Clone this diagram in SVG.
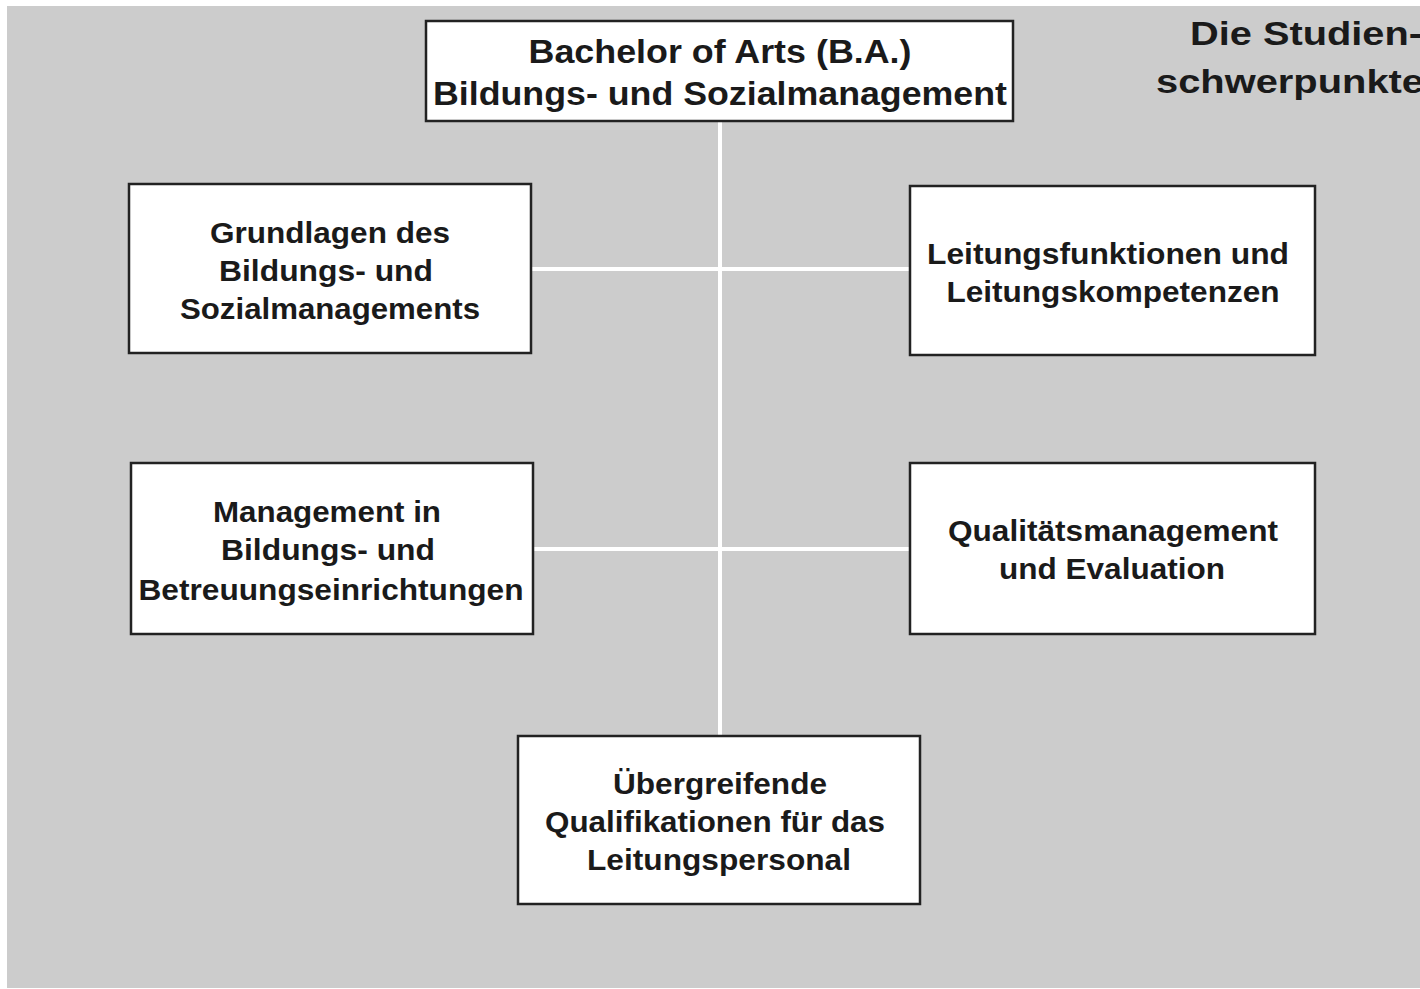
<svg xmlns="http://www.w3.org/2000/svg" width="1420" height="989" viewBox="0 0 1420 989">
<style>
.box{fill:#ffffff;stroke:#222222;stroke-width:2.5}
.t{font-family:"Liberation Sans",Arial,sans-serif;font-weight:bold;fill:#1a1a1a;text-anchor:middle}
.big{font-size:33px}
.mid{font-size:29px}
.title{font-family:"Liberation Sans",Arial,sans-serif;font-weight:bold;font-size:33px;fill:#1a1a1a}
.conn{stroke:#ffffff;stroke-width:4;fill:none}
</style>
<rect x="0" y="0" width="1420" height="989" fill="#ffffff"/>
<rect x="7" y="6" width="1413" height="982" fill="#cccccc"/>
<g id="connectors">
<line class="conn" x1="720" y1="121" x2="720" y2="736"/>
<line class="conn" x1="531" y1="269" x2="910" y2="269"/>
<line class="conn" x1="533" y1="549" x2="910" y2="549"/>
</g>
<g id="title">
<text class="title" x="1190" y="45" textLength="232" lengthAdjust="spacingAndGlyphs">Die Studien-</text>
<text class="title" x="1156" y="93" textLength="268" lengthAdjust="spacingAndGlyphs">schwerpunkte</text>
</g>
<g id="top">
<rect class="box" x="426" y="21" width="587" height="100"/>
<text class="t big" x="720" y="63" textLength="383" lengthAdjust="spacingAndGlyphs">Bachelor of Arts (B.A.)</text>
<text class="t big" x="720" y="105" textLength="574" lengthAdjust="spacingAndGlyphs">Bildungs- und Sozialmanagement</text>
</g>
<g id="grundlagen">
<rect class="box" x="129" y="184" width="402" height="169"/>
<text class="t mid" x="330" y="243" textLength="240" lengthAdjust="spacingAndGlyphs">Grundlagen des</text>
<text class="t mid" x="326" y="281" textLength="214" lengthAdjust="spacingAndGlyphs">Bildungs- und</text>
<text class="t mid" x="330" y="319" textLength="300" lengthAdjust="spacingAndGlyphs">Sozialmanagements</text>
</g>
<g id="leitungsfunktionen">
<rect class="box" x="910" y="186" width="405" height="169"/>
<text class="t mid" x="1108" y="264" textLength="362" lengthAdjust="spacingAndGlyphs">Leitungsfunktionen und</text>
<text class="t mid" x="1113" y="302" textLength="333" lengthAdjust="spacingAndGlyphs">Leitungskompetenzen</text>
</g>
<g id="management">
<rect class="box" x="131" y="463" width="402" height="171"/>
<text class="t mid" x="327" y="522" textLength="228" lengthAdjust="spacingAndGlyphs">Management in</text>
<text class="t mid" x="328" y="560" textLength="214" lengthAdjust="spacingAndGlyphs">Bildungs- und</text>
<text class="t mid" x="331" y="600" textLength="385" lengthAdjust="spacingAndGlyphs">Betreuungseinrichtungen</text>
</g>
<g id="qualitaet">
<rect class="box" x="910" y="463" width="405" height="171"/>
<text class="t mid" x="1113" y="541" textLength="330" lengthAdjust="spacingAndGlyphs">Qualitätsmanagement</text>
<text class="t mid" x="1112" y="579" textLength="226" lengthAdjust="spacingAndGlyphs">und Evaluation</text>
</g>
<g id="uebergreifend">
<rect class="box" x="518" y="736" width="402" height="168"/>
<text class="t mid" x="720" y="794" textLength="214" lengthAdjust="spacingAndGlyphs">Übergreifende</text>
<text class="t mid" x="715" y="832" textLength="340" lengthAdjust="spacingAndGlyphs">Qualifikationen für das</text>
<text class="t mid" x="719" y="870" textLength="264" lengthAdjust="spacingAndGlyphs">Leitungspersonal</text>
</g>
</svg>
